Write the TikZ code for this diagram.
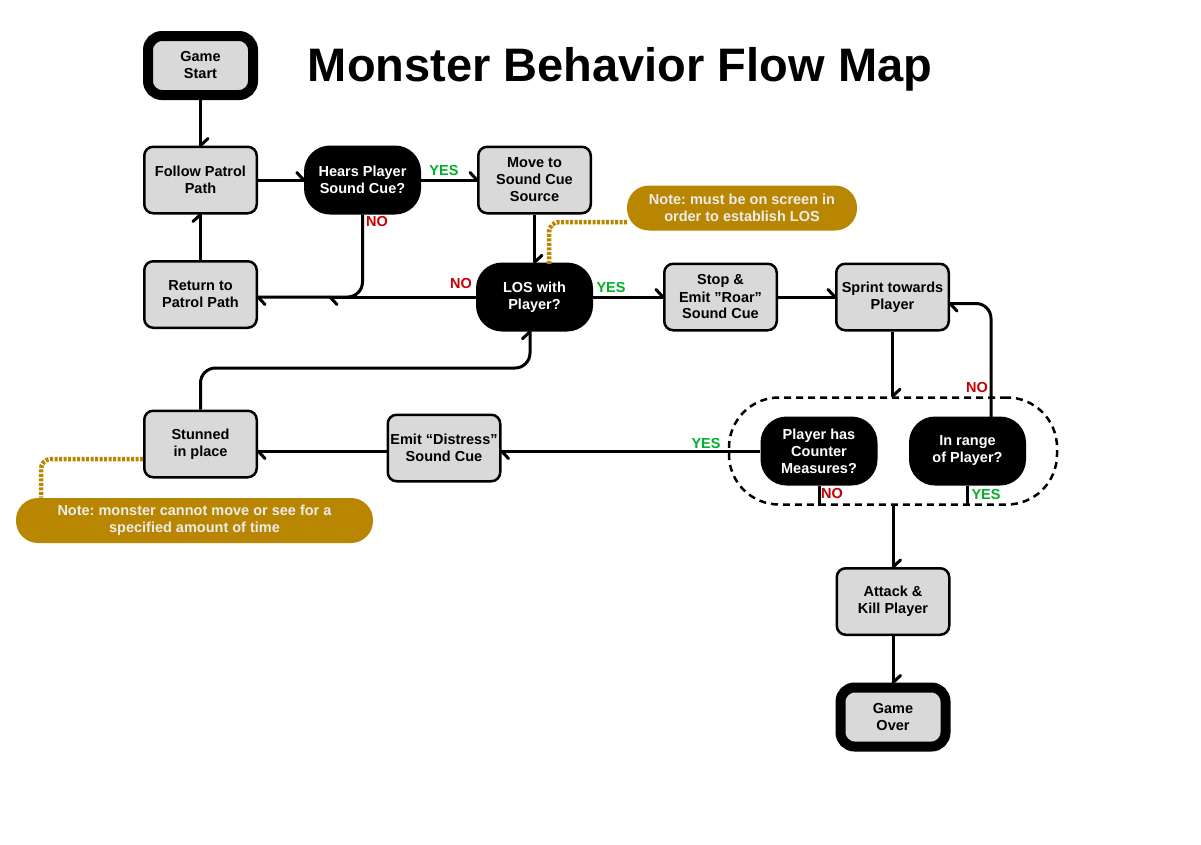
\documentclass[tikz,border=0pt]{standalone}
\usepackage{fontspec}
\setmainfont{Liberation Sans}
\usetikzlibrary{decorations.markings}
\definecolor{boxgray}{RGB}{217,217,217}
\definecolor{gold}{RGB}{184,134,0}
\definecolor{notetext}{RGB}{236,236,236}
\definecolor{yesgreen}{RGB}{0,176,40}
\definecolor{nored}{RGB}{200,0,0}
\frenchspacing
\begin{document}
\begin{tikzpicture}[x=1pt,y=-1pt,
  font=\fontsize{14.5}{17}\selectfont\bfseries,
  proc/.style={draw=black, fill=boxgray, line width=2.5pt, rounded corners=9pt, minimum width=112.5pt, minimum height=66.5pt, inner sep=0pt, align=center},
  term/.style={draw=black, fill=boxgray, line width=10pt, rounded corners=14pt, minimum width=105pt, minimum height=59pt, inner sep=0pt, align=center},
  dec/.style={fill=black, text=white, rounded corners=26pt, minimum width=117pt, minimum height=69pt, inner sep=0pt, align=center},
  note/.style={fill=gold, text=notetext, rounded corners=22pt, inner sep=0pt, minimum height=45pt, align=center},
  flow/.style={line width=3pt, postaction={decorate, decoration={markings, mark=at position 1 with {\draw[line width=3pt, line cap=round, sharp corners] (0,0) -- (-7pt,7.5pt);}}}},
  stub/.style={line width=3pt},
  goldline/.style={draw=gold, line width=4.5pt, dash pattern=on 3pt off 1.5pt, rounded corners=10pt},
  yes/.style={text=yesgreen, inner sep=0pt},
  no/.style={text=nored, inner sep=0pt}]
\fill[white] (0,0) rectangle (1201,844);
\path[use as bounding box] (0,0) rectangle (1201,844);

\node (title) at (620,69) {\fontsize{47}{56}\selectfont Monster Behavior Flow Map};

% group outline
\node[draw=black, line width=2.5pt, dash pattern=on 7pt off 5pt, rounded corners=50pt, minimum width=328pt, minimum height=107pt, inner sep=0pt] (grp) at (893,451) {};

% nodes
\node[term] (start) at (200.5,65.5) {Game\\Start};
\node[proc] (follow) at (200.5,180) {Follow Patrol\\Path};
\node[dec] (hears) at (362.5,180) {Hears Player\\Sound Cue?};
\node[proc] (moveto) at (534.5,180) {Move to\\Sound Cue\\Source};
\node[proc] (ret) at (200.5,294.5) {Return to\\Patrol Path};
\node[dec] (los) at (534.5,297) {LOS with\\Player?};
\node[proc] (stop) at (720.5,297) {Stop \&\\Emit ”Roar”\\Sound Cue};
\node[proc] (sprint) at (892.5,297) {Sprint towards\\Player};
\node[dec] (counter) at (819,451) {Player has\\Counter\\Measures?};
\node[dec] (inrange) at (967.5,451) {In range\\of Player?};
\node[proc] (distress) at (444,448) {Emit “Distress”\\Sound Cue};
\node[proc] (stunned) at (200.5,444) {Stunned\\in place};
\node[proc] (attack) at (893,601.5) {Attack \&\\Kill Player};
\node[term] (over) at (893,717) {Game\\Over};
\node[note, minimum width=230pt] (note1) at (742,208) {Note: must be on screen in\\order to establish LOS};
\node[note, minimum width=357pt] (note2) at (194.5,520.5) {Note: monster cannot move or see for a\\specified amount of time};

% coordinates
\coordinate (mid) at (330,297);
\coordinate (irtop) at (991,418);
\coordinate (lp) at (530,368);
\coordinate (n1a) at (627,222);
\coordinate (n1b) at (549,264);
\coordinate (n2a) at (143,459);
\coordinate (n2b) at (41,497.5);

% connectors
\draw[flow] (start) -- (follow);
\draw[flow] (follow) -- (hears);
\draw[flow] (hears) -- (moveto);
\draw[flow, rounded corners=15pt] (hears.south) |- (ret.east |- los.west);
\draw[flow] (los.west) -- (mid);
\draw[flow] (ret) -- (follow);
\draw[flow] (moveto) -- (los);
\draw[flow] (los) -- (stop);
\draw[flow] (stop) -- (sprint);
\draw[flow] (sprint.south) -- (sprint.south |- grp.north);
\draw[flow, rounded corners=15pt] (irtop) |- ([yshift=-6.5pt]sprint.east);
\draw[flow] (counter.west) -- (distress.east |- counter.west);
\draw[flow] (distress.west |- counter.west) -- (stunned.east |- counter.west);
\draw[flow, rounded corners=15pt] (stunned.north) |- (lp) -- ([xshift=-4.5pt]los.south);
\draw[stub] (counter.south) -- (counter.south |- grp.south);
\draw[stub] (inrange.south) -- (inrange.south |- grp.south);
\draw[flow] (grp.south) -- (attack.north);
\draw[flow] (attack) -- (over);
\draw[goldline] (n1a) -| (n1b);
\draw[goldline] (n2a) -| (n2b);

% labels
\node[yes] (y1) at (444,171) {YES};
\node[no] (no1) at (377,222) {NO};
\node[no] (no2) at (461,284) {NO};
\node[yes] (y2) at (611,288) {YES};
\node[no] (no3) at (977,387) {NO};
\node[yes] (y3) at (706,443) {YES};
\node[no] (no4) at (832,493) {NO};
\node[yes] (y4) at (986,494) {YES};
\end{tikzpicture}
\end{document}
